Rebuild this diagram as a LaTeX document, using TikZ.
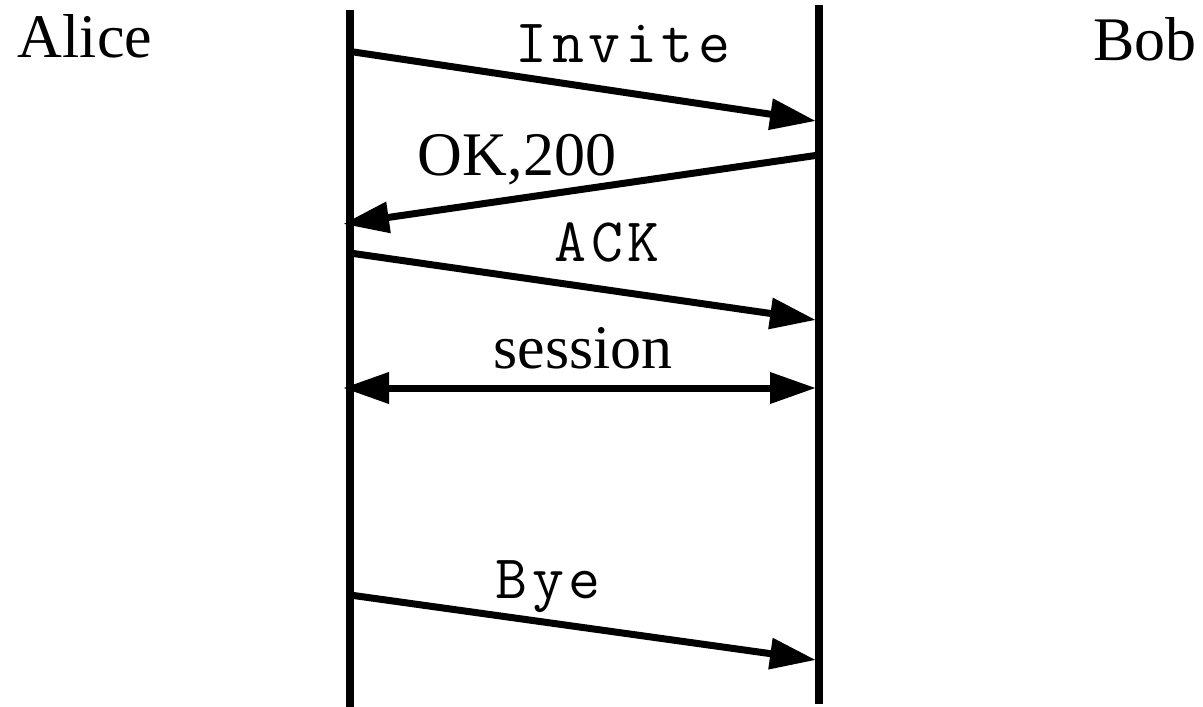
\documentclass[tikz,border=0pt]{standalone}
\usepackage{fontspec}
\setmainfont{Liberation Serif}
\setmonofont{Latin Modern Mono}[LetterSpace=7.5]
\usetikzlibrary{arrows.meta}

\begin{document}
\begin{tikzpicture}
	[x=1pt,y=-1pt,
	 lbl/.style={font=\fontsize{62}{70}\selectfont,anchor=base,inner sep=0pt},
	 mono/.style={lbl,font=\fontsize{62}{70}\selectfont\ttfamily},
	 lifeline/.style={line width=7.5pt},
	 msg/.style={line width=7pt,-{Triangle[length=46pt,width=30pt]}},
	 msgboth/.style={line width=7pt,{Triangle[length=46pt,width=30pt]}-{Triangle[length=46pt,width=30pt]}}]
	\useasboundingbox (0,0) rectangle (1203,707);
	\node[lbl] (alice) at (85,57) {Alice};
	\node[lbl] (bob) at (1145,60) {Bob};
	\coordinate (atop) at (350,10);
	\coordinate (abot) at (350,707);
	\coordinate (btop) at (819,5);
	\coordinate (bbot) at (819,704);
	\draw[lifeline] (atop) -- (abot);
	\draw[lifeline] (btop) -- (bbot);
	\coordinate (a1) at (347,51);
	\coordinate (b1) at (816,121);
	\coordinate (b2) at (819,155);
	\coordinate (a2) at (343,224);
	\coordinate (a3) at (350,253);
	\coordinate (b3) at (816,320);
	\coordinate (a4) at (343,388);
	\coordinate (b4) at (816,388);
	\coordinate (a5) at (350,595);
	\coordinate (b5) at (816,660);
	\draw[msg] (a1) -- (b1);
	\draw[msg] (b2) -- (a2);
	\draw[msg] (a3) -- (b3);
	\draw[msgboth] (a4) -- (b4);
	\draw[msg] (a5) -- (b5);
	\node[mono] (invite) at (623,62) {Invite};
	\node[lbl] (ok) at (517,175) {OK,200};
	\node[mono] (ack) at (607,261) {ACK};
	\node[lbl] (session) at (583,368) {session};
	\node[mono] (bye) at (548,598) {Bye};
\end{tikzpicture}
\end{document}
